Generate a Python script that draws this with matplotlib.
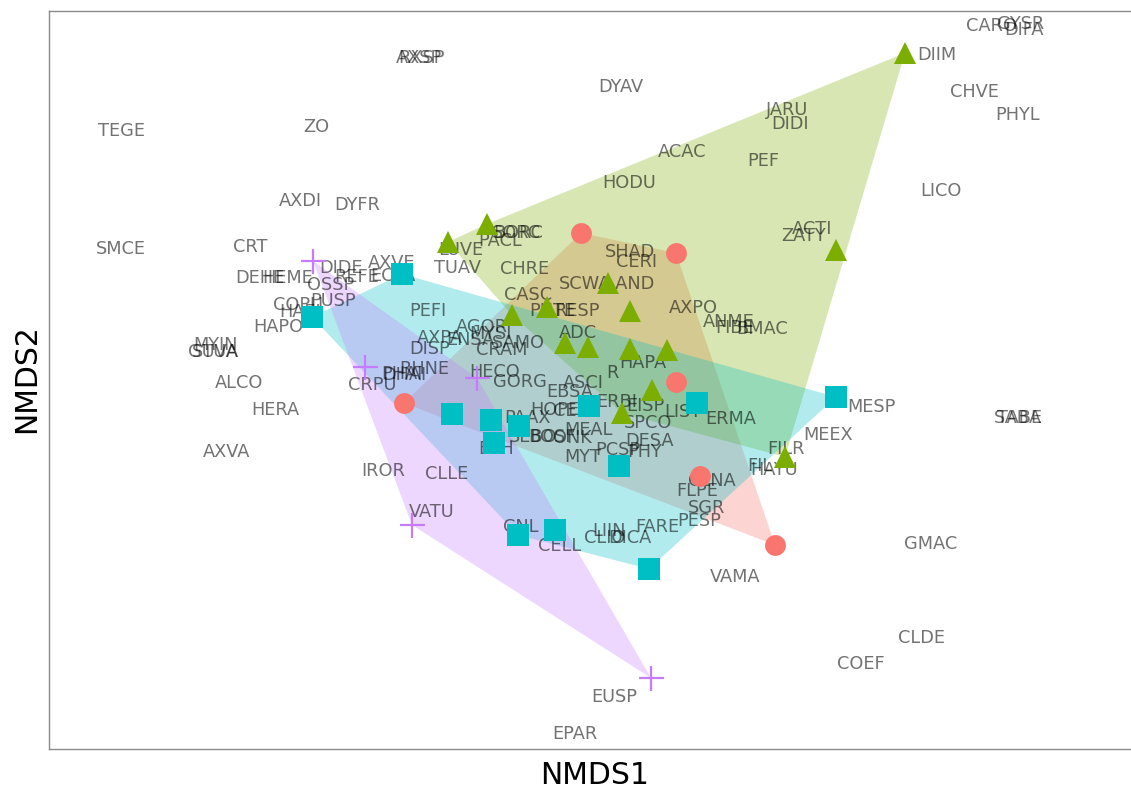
import numpy as np
import matplotlib
matplotlib.use("Agg")
import matplotlib.pyplot as plt

# ---- site scores by group (NMDS1, NMDS2) ----
g1_x = [-0.09, 0.86, 0.86, -1.86, 1.10, 1.85]
g1_y = [1.47, 1.27, -0.02, -0.23, -0.96, -1.65]

g2_x = [3.15, 2.46, -1.42, -1.03, -0.78, -0.43, 0.18, 0.40, -0.25, -0.02, 0.40, 0.77, 0.62, 0.32, 1.95]
g2_y = [3.27, 1.30, 1.38, 1.56, 0.65, 0.73, 0.97, 0.69, 0.37, 0.33, 0.31, 0.30, -0.10, -0.33, -0.77]

g3_x = [-1.88, -2.78, -1.38, -0.99, -0.71, -0.96, -0.01, 1.07, 2.46, 0.29, -0.72, -0.35, 0.59]
g3_y = [1.06, 0.63, -0.34, -0.40, -0.46, -0.63, -0.26, -0.23, -0.17, -0.86, -1.55, -1.50, -1.89]

g4_x = [-2.77, -2.25, -1.13, -1.78, 0.61]
g4_y = [1.19, 0.13, 0.02, -1.45, -2.98]

# ---- species scores ----
species = ["AXSP", "RXSP", "TEGE", "ZO", "DYAV", "CARO", "GYSR", "DIFA", "DIIM", "CHVE",
           "PHYL", "JARU", "DIDI", "ACAC", "PEF", "HODU", "LICO", "AXDI", "DYFR", "SMCE",
           "CRT", "ZATY", "ACTI", "SORC", "BORC", "PACL", "LUVE", "SHAD", "CERI", "TUAV",
           "CHRE", "DEHE", "HEME", "DIDE", "AXVE", "REFE", "ECPA", "OSSP", "PUSP", "COPU",
           "HAEI", "HAPO", "MYIN", "GUVA", "STUA", "ALCO", "HERA", "AXVA", "PEFI", "AGOR",
           "MYSI", "AXPA", "ENSA", "CRAM", "SAMO", "DISP", "RHNE", "PHAI", "DHAI", "CRPU",
           "HECO", "GORG", "ASCI", "R", "HAPA", "EBSA", "HOPE", "CELS", "ERBI", "EISP",
           "LIST", "ERMA", "SPCO", "MEAL", "PAAX", "SEBO", "BOSF", "ONK", "ESH", "MYT",
           "PCSP", "PHY", "DESA", "CLNA", "FLPE", "SGR", "PESP", "FARE", "LIIN", "CLIO",
           "DICA", "CELL", "CNL", "FIL", "HAYU", "FILR", "MEEX", "MESP", "SABA", "TABE",
           "GMAC", "VAMA", "CLDE", "COEF", "EUSP", "EPAR", "IROR", "CLLE", "VATU", "AXPO",
           "ANME", "FIBE", "BMAC", "SCWA", "LAND", "CASC", "PHTE", "RESP", "ADC"]
sp_x = [-1.71, -1.68, -4.68, -2.74, 0.31, 4.01, 4.31, 4.34, 3.47, 3.84,
        4.28, 1.97, 2.00, 0.92, 1.73, 0.39, 3.51, -2.90, -2.33, -4.69,
        -3.40, 2.14, 2.22, -0.74, -0.72, -0.90, -1.29, 0.40, 0.47, -1.32,
        -0.65, -3.30, -3.02, -2.49, -1.98, -2.33, -1.97, -2.59, -2.57, -2.92,
        -2.90, -3.12, -3.75, -3.77, -3.74, -3.51, -3.15, -3.63, -1.62, -1.08,
        -1.00, -1.50, -1.20, -0.88, -0.72, -1.60, -1.66, -1.88, -1.86, -2.18,
        -0.95, -0.70, -0.07, 0.22, 0.53, -0.20, -0.35, -0.15, 0.27, 0.55,
        0.93, 1.41, 0.58, -0.02, -0.62, -0.57, -0.38, -0.18, -0.94, -0.07,
        0.28, 0.55, 0.60, 1.22, 1.07, 1.17, 1.09, 0.67, 0.19, 0.15,
        0.40, -0.30, -0.69, 1.70, 1.84, 1.96, 2.38, 2.81, 4.28, 4.30,
        3.41, 1.45, 3.32, 2.71, 0.24, -0.15, -2.07, -1.43, -1.58, 1.03,
        1.39, 1.45, 1.72, -0.05, 0.40, -0.62, -0.38, -0.13, -0.12]
sp_y = [3.22, 3.22, 2.49, 2.53, 2.93, 3.54, 3.56, 3.50, 3.25, 2.88,
        2.65, 2.70, 2.56, 2.28, 2.19, 1.97, 1.89, 1.79, 1.75, 1.31,
        1.33, 1.44, 1.51, 1.47, 1.47, 1.39, 1.30, 1.28, 1.18, 1.12,
        1.11, 1.02, 1.02, 1.12, 1.17, 1.03, 1.04, 0.95, 0.79, 0.75,
        0.68, 0.53, 0.35, 0.28, 0.28, -0.03, -0.30, -0.72, 0.69, 0.53,
        0.46, 0.42, 0.40, 0.30, 0.37, 0.31, 0.11, 0.06, 0.05, -0.05,
        0.08, -0.02, -0.03, 0.07, 0.17, -0.12, -0.30, -0.31, -0.22, -0.26,
        -0.32, -0.39, -0.43, -0.50, -0.38, -0.57, -0.57, -0.58, -0.69, -0.77,
        -0.70, -0.72, -0.61, -1.01, -1.11, -1.28, -1.41, -1.47, -1.51, -1.58,
        -1.58, -1.66, -1.47, -0.86, -0.90, -0.69, -0.55, -0.27, -0.38, -0.38,
        -1.64, -1.97, -2.58, -2.84, -3.17, -3.54, -0.91, -0.94, -1.32, 0.72,
        0.58, 0.52, 0.51, 0.96, 0.96, 0.85, 0.69, 0.69, 0.47]

group_colors = ["#F8766D", "#7CAE00", "#00BFC4", "#C77CFF"]
group_markers = ["o", "^", "s", "+"]
group_sizes = [15, 16, 16, 18]


def convex_hull(xs, ys):
    pts = sorted(set(zip(xs, ys)))
    if len(pts) <= 2:
        return pts

    def cross(o, a, b):
        return (a[0] - o[0]) * (b[1] - o[1]) - (a[1] - o[1]) * (b[0] - o[0])

    lower = []
    for p in pts:
        while len(lower) >= 2 and cross(lower[-2], lower[-1], p) <= 0:
            lower.pop()
        lower.append(p)
    upper = []
    for p in reversed(pts):
        while len(upper) >= 2 and cross(upper[-2], upper[-1], p) <= 0:
            upper.pop()
        upper.append(p)
    return lower[:-1] + upper[:-1]


fig = plt.figure(figsize=(11.31, 7.89), dpi=100)
ax = fig.add_axes([49 / 1131, 40 / 789, (1142 - 49) / 1131, (749 - 11) / 789])

groups = [(g1_x, g1_y), (g2_x, g2_y), (g3_x, g3_y), (g4_x, g4_y)]

for (gx, gy), col in zip(groups, group_colors):
    hull = np.array(convex_hull(gx, gy))
    ax.fill(hull[:, 0], hull[:, 1], color=col, alpha=0.3, lw=0, zorder=1)

for name, x, y in zip(species, sp_x, sp_y):
    ax.text(x, y, name, ha="center", va="center", fontsize=12.8,
            color="black", alpha=0.55, family="DejaVu Sans", zorder=2)

for (gx, gy), col, mk, ms in zip(groups, group_colors, group_markers, group_sizes):
    if mk == "+":
        ax.plot(gx, gy, ls="none", marker=mk, color=col, ms=ms, mew=1.6, zorder=3)
    else:
        ax.plot(gx, gy, ls="none", marker=mk, color=col, ms=ms, mew=0, zorder=3)

ax.set_xlim(-5.41, 5.52)
ax.set_ylim(-3.69, 3.69)
ax.set_xticks([])
ax.set_yticks([])
for s in ax.spines.values():
    s.set_color("#8a8a8a")
    s.set_linewidth(1.0)

fig.text(595 / 1131, 1 - 776 / 789, "NMDS1", ha="center", va="center", fontsize=21.5)
fig.text(27 / 1131, 1 - 379 / 789, "NMDS2", ha="center", va="center", fontsize=21.5, rotation=90)

fig.savefig("out.png", dpi=100)
